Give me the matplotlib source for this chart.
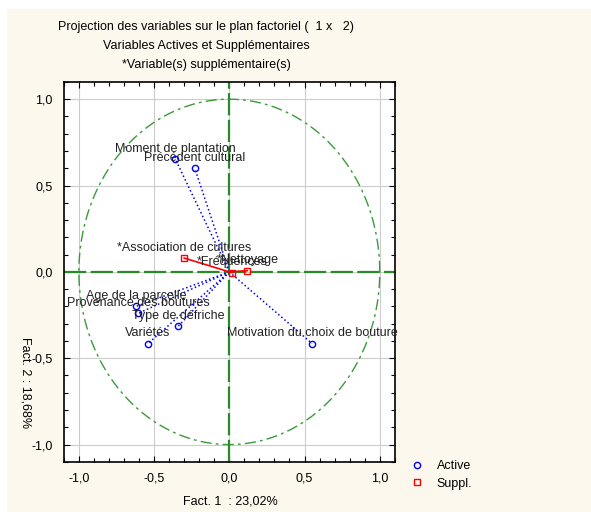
import matplotlib.pyplot as plt
import numpy as np
from matplotlib.lines import Line2D

plt.rcParams['font.family'] = ['Liberation Sans', 'DejaVu Sans']

# active variables (coordinates on factors 1 and 2)
active_names = ['Moment de plantation', 'Précédent cultural', 'Age de la parcelle',
                'Provenance des boutures', 'Type de défriche', 'Variétés',
                'Motivation du choix de bouture']
active_f1 = [-0.36, -0.23, -0.62, -0.605, -0.34, -0.54, 0.55]
active_f2 = [0.655, 0.60, -0.20, -0.24, -0.315, -0.415, -0.415]

# supplementary variables
suppl_names = ['*Association de cultures', '*Fréquences', '*Nettoyage']
suppl_f1 = [-0.30, 0.02, 0.12]
suppl_f2 = [0.08, -0.004, 0.007]

ticks = [-1.0, -0.5, 0.0, 0.5, 1.0]
tick_labels = ['-1,0', '-0,5', '0,0', '0,5', '1,0']

fs = 9
bg = '#fdf8ee'
fig = plt.figure(figsize=(5.91, 5.12), dpi=100)
fig.patch.set_facecolor('white')
# cream panel behind everything
fig.add_artist(plt.Rectangle((7 / 591, 0), 1, 1 - 9 / 512, transform=fig.transFigure,
                             facecolor=bg, edgecolor='none', zorder=-10))

ax = fig.add_axes([0.108, 0.098, 0.560, 0.742])
ax.set_facecolor('white')
ax.set_xlim(-1.1, 1.1)
ax.set_ylim(-1.1, 1.1)

ax.set_xticks(ticks)
ax.set_xticklabels(tick_labels, fontsize=fs)
ax.set_yticks(ticks)
ax.set_yticklabels(tick_labels, fontsize=fs)
ax.set_xticks(np.arange(-1.1, 1.11, 0.1), minor=True)
ax.set_yticks(np.arange(-1.1, 1.11, 0.1), minor=True)
ax.tick_params(which='both', direction='in', top=True, right=True, length=3, width=0.8)
ax.tick_params(which='major', length=4, pad=8)
ax.grid(which='major', color='#cccccc', linewidth=0.8)
for s in ax.spines.values():
    s.set_linewidth(1.2)

# unit circle and axes through origin
t = np.linspace(0, 2 * np.pi, 400)
ax.plot(np.cos(t), np.sin(t), color='#3a9a3a', linewidth=1, linestyle=(0, (8, 3, 2, 3)))
ax.axhline(0, color='#2a8a2a', linewidth=1.6, linestyle=(0, (10, 2)))
ax.axvline(0, color='#2a8a2a', linewidth=1.6, linestyle=(0, (10, 2)))

for name, x, y in zip(active_names, active_f1, active_f2):
    ax.plot([0, x], [0, y], color='blue', linestyle=':', linewidth=1.1)
    ax.annotate(name, (x, y), xytext=(0, 3), textcoords='offset points',
                ha='center', va='bottom', fontsize=fs, color='#222222')
ax.plot(active_f1, active_f2, 'o', markersize=4.5, markerfacecolor='none',
        markeredgecolor='blue', markeredgewidth=1)

for name, x, y in zip(suppl_names, suppl_f1, suppl_f2):
    ax.plot([0, x], [0, y], color='red', linewidth=1.2)
    ax.annotate(name, (x, y), xytext=(0, 3), textcoords='offset points',
                ha='center', va='bottom', fontsize=fs, color='#222222')
ax.plot(suppl_f1, suppl_f2, 's', markersize=5, markerfacecolor='none',
        markeredgecolor='red', markeredgewidth=1)

fig.text(206 / 591, 0.947, 'Projection des variables sur le plan factoriel (  1 x   2)',
         ha='center', va='center', fontsize=fs)
fig.text(206 / 591, 0.910, 'Variables Actives et Supplémentaires',
         ha='center', va='center', fontsize=fs)
fig.text(206 / 591, 0.873, '*Variable(s) supplémentaire(s)',
         ha='center', va='center', fontsize=fs)

fig.text(230 / 591, 0.02, 'Fact. 1  : 23,02%', ha='center', va='center', fontsize=fs)
fig.text(25 / 591, 1 - 383 / 512, 'Fact. 2 : 18,68%', ha='center', va='center',
         rotation=270, fontsize=fs)

handles = [Line2D([], [], marker='o', linestyle='none', markersize=4.5,
                  markerfacecolor='none', markeredgecolor='blue', label='Active'),
           Line2D([], [], marker='s', linestyle='none', markersize=5,
                  markerfacecolor='none', markeredgecolor='red', label='Suppl.')]
fig.legend(handles=handles, loc='center left', bbox_to_anchor=(393 / 591, 1 - 475 / 512),
           frameon=False, fontsize=fs, handletextpad=0.6, labelspacing=0.45)

fig.savefig('out.png', dpi=100, facecolor=fig.get_facecolor())
